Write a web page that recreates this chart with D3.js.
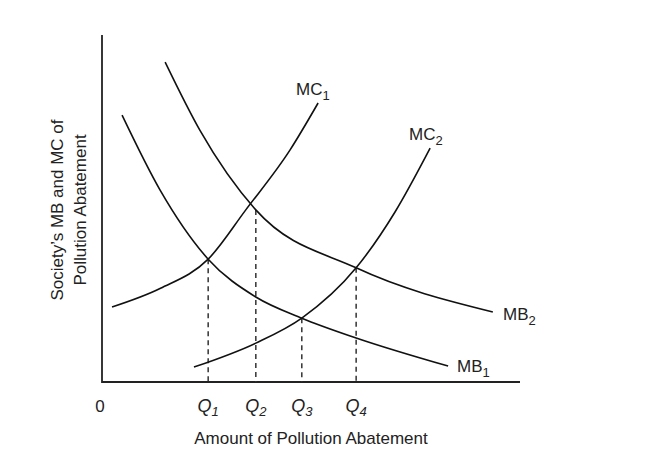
<!DOCTYPE html>
<html><head><meta charset="utf-8">
<script src="https://cdn.jsdelivr.net/npm/d3@7"></script>
<style>body{margin:0;background:#fff}text{font-family:"Liberation Sans",Arial,sans-serif;fill:#222}</style>
</head><body><svg id="c" width="653" height="458"></svg>
<script>
// curve points in abstract units (0..100 each axis)
var mc1 = [[2.4,21.6],[14,27],[25.4,35.4],[34.4,49.6],[45,66.9],[51.7,80.4]];
var mc2 = [[22,4.3],[36.8,11.2],[47.8,18.4],[60.8,32.9],[70.1,49],[78.5,67.4]];
var mb1 = [[4.8,76.9],[13.9,55.3],[25.4,35.4],[36.8,24.5],[47.8,18.4],[60.8,12.7],[82.8,4.6]];
var mb2 = [[15.1,92.2],[23.4,72.6],[36.8,49.6],[60.8,32.9],[93.5,20.2]];
var qLabels = ['1','2','3','4'];
var qX = [25.4, 36.8, 47.8, 60.8];
var qY = [35.4, 49.6, 18.4, 32.9];

var svg = d3.select('#c');
var x = d3.scaleLinear().domain([0,100]).range([102,520]);
var y = d3.scaleLinear().domain([0,100]).range([382,35]);

svg.append('path').attr('d', 'M'+x(0)+','+y(100)+'V'+y(0)+'H'+x(100))
    .attr('fill','none').attr('stroke','#222').attr('stroke-width',1.8);

var line = d3.line().x(function(d){return x(d[0]);}).y(function(d){return y(d[1]);})
    .curve(d3.curveMonotoneX);

qX.forEach(function(q, i) {
    svg.append('line').attr('x1',x(q)).attr('x2',x(q)).attr('y1',y(qY[i])).attr('y2',y(0))
        .attr('stroke','#333').attr('stroke-width',1.5).attr('stroke-dasharray','5,4');
    var t = svg.append('text').attr('x',x(q)).attr('y',412).attr('text-anchor','middle')
        .attr('font-size',18).attr('font-style','italic');
    t.append('tspan').text('Q');
    t.append('tspan').attr('font-size',13).attr('dy',4).text(qLabels[i]);
});

[mc1, mc2, mb1, mb2].forEach(function(c) {
    svg.append('path').attr('d', line(c)).attr('fill','none')
        .attr('stroke','#111').attr('stroke-width',1.6);
});

function label(px, py, main, sub) {
    var t = svg.append('text').attr('x',px).attr('y',py).attr('font-size',17);
    t.append('tspan').text(main);
    t.append('tspan').attr('font-size',13).attr('dy',5).text(sub);
}
label(296, 95, 'MC', '1');
label(409, 140, 'MC', '2');
label(503, 320, 'MB', '2');
label(457, 372, 'MB', '1');

svg.append('text').attr('x',100).attr('y',412).attr('text-anchor','middle').attr('font-size',17).text('0');
svg.append('text').attr('x',311).attr('y',444).attr('text-anchor','middle').attr('font-size',17)
    .text('Amount of Pollution Abatement');
var yt = svg.append('text').attr('transform','translate(63,210) rotate(-90)')
    .attr('text-anchor','middle').attr('font-size',17);
yt.append('tspan').attr('x',0).attr('dy',0).text('Society\u2019s MB and MC of');
yt.append('tspan').attr('x',0).attr('dy',23).text('Pollution Abatement');
</script></body></html>
